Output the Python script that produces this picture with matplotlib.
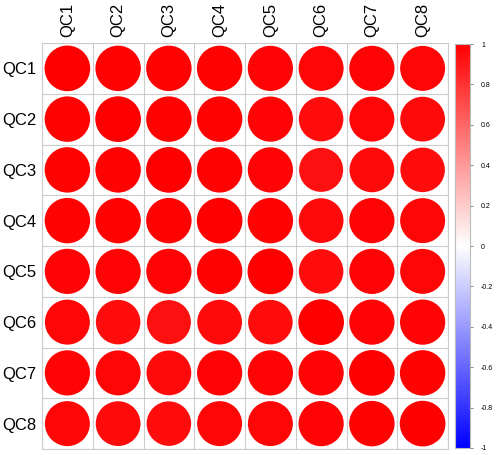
import numpy as np
import matplotlib
matplotlib.use('Agg')
import matplotlib.pyplot as plt
from matplotlib.patches import Circle
from matplotlib.colors import LinearSegmentedColormap, Normalize

plt.rcParams['font.family'] = ['Liberation Sans', 'DejaVu Sans']

labels = ['QC1', 'QC2', 'QC3', 'QC4', 'QC5', 'QC6', 'QC7', 'QC8']
corr = np.array([
    [1.00, 0.99, 0.99, 0.99, 0.98, 0.97, 0.98, 0.97],
    [0.99, 1.00, 0.99, 0.99, 0.98, 0.95, 0.97, 0.96],
    [0.99, 0.99, 1.00, 0.99, 0.98, 0.93, 0.96, 0.95],
    [0.99, 0.99, 0.99, 1.00, 0.99, 0.96, 0.98, 0.97],
    [0.98, 0.98, 0.98, 0.99, 1.00, 0.95, 0.98, 0.97],
    [0.97, 0.95, 0.93, 0.96, 0.95, 1.00, 0.98, 0.98],
    [0.98, 0.97, 0.96, 0.98, 0.98, 0.98, 1.00, 0.99],
    [0.97, 0.96, 0.95, 0.97, 0.97, 0.98, 0.99, 1.00],
])
cbar_ticks = [-1, -0.8, -0.6, -0.4, -0.2, 0, 0.2, 0.4, 0.6, 0.8, 1]

cmap = LinearSegmentedColormap.from_list('bwr2', ['#0000FF', '#FFFFFF', '#FF0000'])
norm = Normalize(-1, 1)

fig = plt.figure(figsize=(4.98, 4.55), dpi=100)
ax = fig.add_axes([42/498, 6/455, 406/498, 406/455])

n = len(labels)
for i in range(n):
    for j in range(n):
        r = corr[i, j]
        ax.add_patch(Circle((j + 1, i + 1), 0.45 * np.sqrt(abs(r)),
                            facecolor=cmap(norm(r)), edgecolor='none'))

ax.set_xlim(0.5, n + 0.5)
ax.set_ylim(n + 0.5, 0.5)
ax.set_xticks(np.arange(1, n + 1))
ax.set_yticks(np.arange(1, n + 1))
ax.set_xticklabels(labels, rotation=90, fontsize=12)
ax.set_yticklabels(labels, fontsize=12)
ax.xaxis.tick_top()
ax.tick_params(length=0, pad=4)
ax.set_xticks(np.arange(0.5, n + 1), minor=True)
ax.set_yticks(np.arange(0.5, n + 1), minor=True)
ax.tick_params(which='minor', length=0)
ax.grid(which='minor', color='#cccccc', linewidth=0.8)
ax.grid(which='major', visible=False)
for s in ax.spines.values():
    s.set_color('#cccccc')
    s.set_linewidth(0.8)

cax = fig.add_axes([455/498, 7/455, 15/498, 404/455])
sm = plt.cm.ScalarMappable(norm=norm, cmap=cmap)
cb = fig.colorbar(sm, cax=cax, ticks=cbar_ticks)
cb.ax.set_yticklabels([('%g' % t) for t in cbar_ticks], fontsize=5)
cb.ax.tick_params(length=2, width=0.5, color='#555555', pad=6)
cb.outline.set_edgecolor('#bbbbbb')
cb.outline.set_linewidth(0.8)

fig.savefig('out.png', dpi=100)
